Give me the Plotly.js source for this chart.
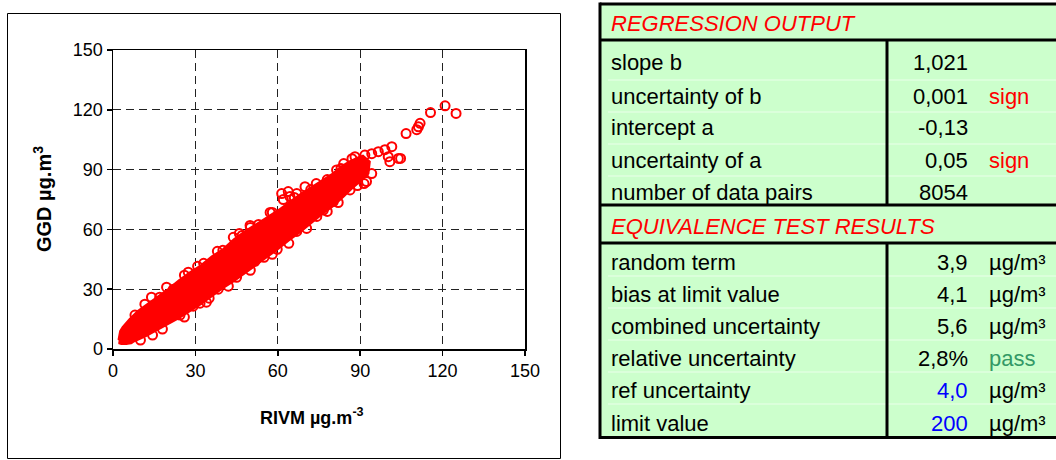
<!DOCTYPE html>
<html>
<head>
<meta charset="utf-8">
<script src="https://cdn.plot.ly/plotly-3.0.1.min.js"></script>
<style>
  html, body { margin: 0; padding: 0; background: #fff; }
  #chart { width: 1056px; height: 460px; }
</style>
</head>
<body>
<div id="chart"></div>
<script>
// ---------------- DATA ----------------
// Axis ticks
const tickValues = [0, 30, 60, 90, 120, 150];

// Outline of the dense (saturated) point cloud, RIVM (x) vs GGD (y), µg/m3
const cloudX = [2.0, 2.6, 3.5, 6, 9, 12, 16, 20, 24, 28, 32, 36, 40, 44, 48, 52, 56, 60, 64, 68, 72, 76, 80, 83, 86, 89, 91,
                93.5, 93,
                90, 87, 84, 80, 76, 72, 68, 64, 60, 56, 52, 48, 44, 40, 36, 32, 28, 24, 20, 16, 12, 8, 5, 3, 2];
const cloudY = [4.5, 9, 11, 15, 19, 22, 26, 30, 34.5, 38.5, 42, 46.5, 50, 55, 59, 62.5, 66, 69.5, 73.5, 77.5, 81, 84.5, 88, 91.5, 94, 96, 97,
                94, 88,
                84, 80.5, 76.5, 71.5, 67.5, 63, 58.5, 54.5, 50, 46, 42, 38, 34, 30.5, 26.5, 22.5, 19, 15.5, 12.5, 9.5, 6.5, 4, 2.5, 2.5, 3];

// Individually visible data pairs (outliers and edge points)
const rivm = [11.6, 19.5, 27.4, 30.8, 14.4, 31.7, 29.2, 38.3, 24.4, 43.8, 49.9, 57.2, 61.4, 63.8, 66.9, 69.9, 62, 64.4,
              59.8, 51.7, 70.5, 66.9, 74.2, 76.6, 80.2, 86.3, 91.4, 92.3, 94.2, 85.7, 81.4, 88.1, 90.5, 91.7, 94.2, 96.6,
              99, 101.5, 100.2, 103.9, 100.8, 104.7, 106.7, 110.6, 111.2, 111.8, 115.6, 120.9, 124.9,
              40, 47, 53, 45, 55, 17, 8, 6, 33, 78, 83, 87, 72, 22, 35,
              14, 26, 38, 46, 50, 58, 66, 74, 84, 87, 10, 18, 26, 34, 42, 50, 58, 64, 78, 82, 89];
const ggd  = [22.5, 31, 38.5, 41.5, 7, 23, 21.5, 30, 17, 56, 62, 68.5, 78, 79, 78, 81.4, 75, 76.5,
              50, 44, 60.5, 59, 66.5, 69.7, 74, 79.8, 83, 84, 88, 87.3, 89.8, 96.5, 94, 97.3, 98, 99,
              100, 101.5, 96.5, 95.6, 94, 95.6, 108.1, 110, 111.5, 113.2, 118.6, 122, 118.2,
              49.5, 57, 62.5, 36, 46, 26, 17, 5, 43, 85, 90.5, 92, 80, 30, 25.5,
              26, 37, 49, 58, 61, 68.5, 76, 83, 93, 95.5, 4.5, 10, 16, 23.5, 31.5, 39.5, 47.5, 53, 69, 73.5, 82];

// Regression output table
const regLabels = ['slope b', 'uncertainty of b', 'intercept a', 'uncertainty of a', 'number of data pairs'];
const regValues = ['1,021', '0,001', '-0,13', '0,05', '8054'];
const regFlags  = ['', 'sign', '', 'sign', ''];

// Equivalence test table
const eqLabels = ['random term', 'bias at limit value', 'combined uncertainty', 'relative uncertainty', 'ref uncertainty', 'limit value'];
const eqValues = ['3,9', '4,1', '5,6', '2,8%', '4,0', '200'];
const eqUnits  = ['µg/m³', 'µg/m³', 'µg/m³', 'pass', 'µg/m³', 'µg/m³'];
const eqInputs = ['ref uncertainty', 'limit value'];   // user-entered cells

const sectionTitles = ['REGRESSION OUTPUT', 'EQUIVALENCE TEST RESULTS'];

// ---------------- LAYOUT HELPERS ----------------
const W = 1056, H = 460;
const X = px => px / W;
const Y = py => 1 - py / H;
const FONT = 'Liberation Sans, Arial, Helvetica, sans-serif';
const RED = '#ff0000';

const traces = [
  {
    type: 'scatter', mode: 'lines', x: cloudX, y: cloudY,
    fill: 'toself', fillcolor: RED, line: { color: RED, width: 2 },
    hoverinfo: 'skip', showlegend: false
  },
  {
    type: 'scatter', mode: 'markers', x: rivm, y: ggd,
    marker: { symbol: 'circle-open', size: 9, color: RED, line: { color: RED, width: 2 } },
    hoverinfo: 'skip', showlegend: false
  }
];

const shapes = [];
const annotations = [];

// chart frame
shapes.push({ type: 'rect', xref: 'paper', yref: 'paper', x0: X(7.5), x1: X(560.5), y0: Y(13.5), y1: Y(458.5),
  line: { color: '#000', width: 1 }, fillcolor: 'rgba(0,0,0,0)' });

// table background
const tL = 600, tR = 1060, tT = 4, tB = 437.5;
shapes.push({ type: 'rect', xref: 'paper', yref: 'paper', x0: X(tL), x1: X(tR), y0: Y(tT), y1: Y(tB),
  line: { width: 0 }, fillcolor: '#ccffcc', layer: 'below' });

// faint cell gridlines
const faint = [80, 112, 144, 176, 276, 308, 340, 372, 404];
faint.forEach(py => {
  shapes.push({ type: 'line', xref: 'paper', yref: 'paper', x0: X(608), x1: X(1056), y0: Y(py), y1: Y(py),
    line: { color: '#eaffea', width: 1 }, layer: 'below' });
});

// thick borders
const thick = (x0, y0, x1, y1) => shapes.push({ type: 'line', xref: 'paper', yref: 'paper',
  x0: X(x0), x1: X(x1), y0: Y(y0), y1: Y(y1), line: { color: '#000', width: 3 } });
thick(tL, tT - 1.5, tL, tB + 1.5);
thick(tL, tT, tR, tT);
thick(tL, 40, tR, 40);
thick(tL, 205, tR, 205);
thick(tL, 243, tR, 243);
thick(tL, tB, tR, tB);
thick(887, 40, 887, 205);
thick(887, 243, 887, tB);

// table text
const tfont = (color, size) => ({ family: FONT, size: size || 22, color: color });
const txt = (text, px, py, anchor, color, italic) => annotations.push({
  xref: 'paper', yref: 'paper', x: X(px), y: Y(py), text: italic ? '<i>' + text + '</i>' : text,
  xanchor: anchor, yanchor: 'middle', showarrow: false, font: tfont(color)
});

txt(sectionTitles[0], 609, 23, 'left', RED, true);
const regY = [63, 96, 128, 160, 192];
regLabels.forEach((lab, i) => {
  txt(lab, 609, regY[i], 'left', '#000');
  txt(regValues[i], 970, regY[i], 'right', '#000');
  if (regFlags[i]) txt(regFlags[i], 987, regY[i], 'left', RED);
});

txt(sectionTitles[1], 609, 226, 'left', RED, true);
const eqY = [262, 294, 326, 358, 390, 423];
eqLabels.forEach((lab, i) => {
  const isInput = eqInputs.includes(lab);
  txt(lab, 609, eqY[i], 'left', '#000');
  txt(eqValues[i], 970, eqY[i], 'right', isInput ? '#0000ff' : '#000');
  txt(eqUnits[i], 987, eqY[i], 'left', eqUnits[i] === 'pass' ? '#339966' : '#000');
});

// axis titles
annotations.push({ xref: 'paper', yref: 'paper', x: X(312), y: Y(416), xanchor: 'center', yanchor: 'middle',
  text: '<b>RIVM µg.m<sup>-3</sup></b>', showarrow: false, font: { family: FONT, size: 18, color: '#000' } });
annotations.push({ xref: 'paper', yref: 'paper', x: X(42), y: Y(199), xanchor: 'center', yanchor: 'middle',
  textangle: -90, text: '<b>GGD µg.m<sup>3</sup></b>', showarrow: false, font: { family: FONT, size: 20, color: '#000' } });

const axisCommon = {
  range: [0, 150], tickvals: tickValues, ticktext: tickValues.map(String),
  showline: true, linecolor: '#000', linewidth: 1.5, mirror: true,
  ticks: 'outside', ticklen: 5, tickwidth: 1.5, tickcolor: '#000',
  showgrid: true, gridcolor: '#222', gridwidth: 1, griddash: '8px,5px',
  zeroline: false, fixedrange: true,
  tickfont: { family: FONT, size: 18, color: '#000' }
};

const layout = {
  width: W, height: H,
  margin: { l: 0, r: 0, t: 0, b: 0 },
  paper_bgcolor: '#fff', plot_bgcolor: '#fff',
  showlegend: false,
  xaxis: Object.assign({}, axisCommon, { domain: [113 / W, 525 / W], anchor: 'y' }),
  yaxis: Object.assign({}, axisCommon, { domain: [1 - 349 / H, 1 - 50 / H], anchor: 'x' }),
  shapes: shapes,
  annotations: annotations
};

Plotly.newPlot('chart', traces, layout, { displayModeBar: false, staticPlot: true });
</script>
</body>
</html>
